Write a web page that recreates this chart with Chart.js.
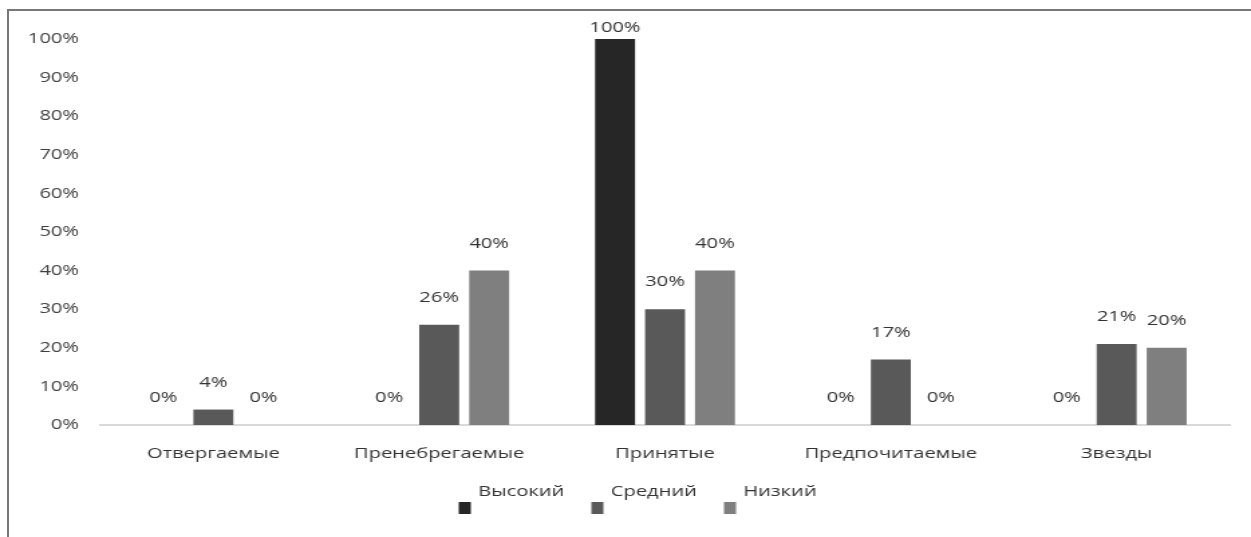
<!DOCTYPE html>
<html>
<head>
<meta charset="utf-8">
<script src="https://cdn.jsdelivr.net/npm/chart.js@4/dist/chart.umd.min.js"></script>
<style>
    html, body { margin: 0; padding: 0; background: #fff; overflow: hidden; }
    #frame {
        position: absolute; left: 7px; top: 9px; width: 1250px; height: 530px;
        border-top: 2px solid #777; border-left: 2px solid #777;
    }
    /* the source picture is stretched sideways, so the chart is drawn narrow and widened */
    #wrap {
        position: absolute; left: 0; top: 0; width: 934px; height: 537px;
        transform: scaleX(1.3394); transform-origin: 0 0;
    }
</style>
</head>
<body>
<div id="frame"></div>
<div id="wrap"><canvas id="chart"></canvas></div>
<script>
const categories = ['Отвергаемые', 'Пренебрегаемые', 'Принятые', 'Предпочитаемые', 'Звезды'];
const seriesNames = ['Высокий', 'Средний', 'Низкий'];
const highValues = [0, 0, 100, 0, 0];
const mediumValues = [4, 26, 30, 17, 21];
const lowValues = [0, 40, 40, 0, 20];
const colors = ['#262626', '#595959', '#7f7f7f'];

const font = { family: '"Open Sans", sans-serif', size: 15 };
const textColor = '#333333';

// value labels above each bar
const valueLabels = {
    id: 'valueLabels',
    afterDatasetsDraw(chart) {
        const ctx = chart.ctx;
        ctx.save();
        ctx.font = `15px ${font.family}`;
        ctx.fillStyle = textColor;
        ctx.textAlign = 'center';
        ctx.textBaseline = 'middle';
        chart.data.datasets.forEach((ds, i) => {
            chart.getDatasetMeta(i).data.forEach((bar, j) => {
                const y = Math.max(bar.y - 27, 28);
                ctx.fillText(ds.data[j] + '%', bar.x, y);
            });
        });
        ctx.restore();
    }
};

// legend with the text raised above the swatch, as in the picture
const bottomLegend = {
    id: 'bottomLegend',
    afterDraw(chart) {
        const ctx = chart.ctx;
        const start = chart.width / 2 - 120;
        ctx.save();
        ctx.font = `15px ${font.family}`;
        ctx.textBaseline = 'middle';
        chart.data.datasets.forEach((ds, i) => {
            const x = start + i * 99;
            ctx.fillStyle = ds.backgroundColor;
            ctx.fillRect(x - 4.5, 502, 9, 12);
            ctx.fillStyle = textColor;
            ctx.fillText(ds.label, x + 10, 492);
        });
        ctx.restore();
    }
};

new Chart(document.getElementById('chart'), {
    type: 'bar',
    data: {
        labels: categories,
        datasets: [
            { label: seriesNames[0], data: highValues, backgroundColor: colors[0] },
            { label: seriesNames[1], data: mediumValues, backgroundColor: colors[1] },
            { label: seriesNames[2], data: lowValues, backgroundColor: colors[2] }
        ]
    },
    options: {
        responsive: true,
        maintainAspectRatio: false,
        animation: false,
        devicePixelRatio: 1,
        categoryPercentage: 0.664,
        barPercentage: 0.8,
        layout: { padding: { top: 39, right: 16, bottom: 67, left: 0 } },
        plugins: {
            legend: { display: false },
            tooltip: { enabled: false }
        },
        scales: {
            x: {
                grid: { display: false, drawTicks: false },
                border: { display: true, color: '#d9d9d9', width: 2 },
                ticks: { color: textColor, font, padding: 20, maxRotation: 0 },
                afterFit(scale) { scale.height = 45; }
            },
            y: {
                min: 0,
                max: 100,
                grid: { display: false, drawTicks: false },
                border: { display: false },
                ticks: {
                    stepSize: 10,
                    color: '#404040',
                    font,
                    padding: 16,
                    callback: v => v + '%'
                },
                afterFit(scale) { scale.width = 75; }
            }
        }
    },
    plugins: [valueLabels, bottomLegend]
});
</script>
</body>
</html>
